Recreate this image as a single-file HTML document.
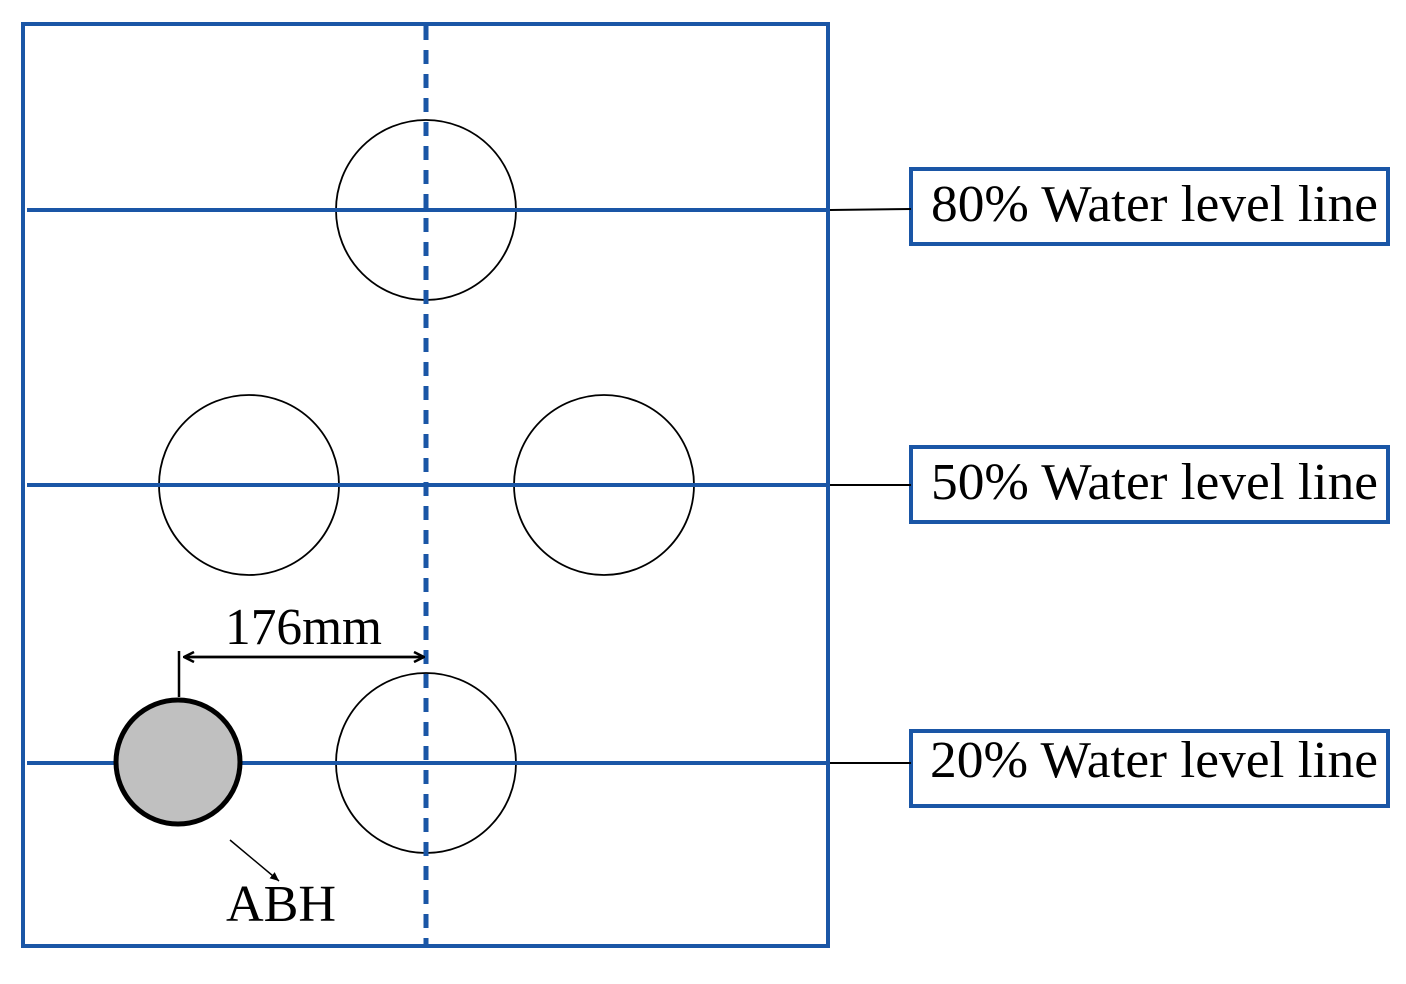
<!DOCTYPE html>
<html><head><style>html,body{margin:0;padding:0;background:#fff}</style></head>
<body>
<svg width="1406" height="979" xmlns="http://www.w3.org/2000/svg" style="font-family:'Liberation Serif','Times New Roman',serif">
<defs>
<marker id="ah" markerWidth="12" markerHeight="12" refX="11" refY="6" orient="auto" markerUnits="userSpaceOnUse">
<path d="M1,1 L11,6 L1,11" fill="none" stroke="#000" stroke-width="2.5"/>
</marker>
<marker id="ah2" markerWidth="10" markerHeight="10" refX="9" refY="5" orient="auto" markerUnits="userSpaceOnUse">
<path d="M0,1 L9,5 L0,9 z" fill="#000"/>
</marker>
</defs>
<g fill="none" stroke="#000" stroke-width="1.8">
<circle cx="426" cy="210" r="90"/>
<circle cx="249" cy="485" r="90"/>
<circle cx="604" cy="485" r="90"/>
<circle cx="426" cy="763" r="90"/>
</g>
<g stroke="#1a56a6" stroke-width="4">
<line x1="27" y1="210" x2="828" y2="210"/>
<line x1="27" y1="485" x2="828" y2="485"/>
<line x1="27" y1="763" x2="828" y2="763"/>
<line x1="426" y1="26" x2="426" y2="946" stroke-dasharray="14 10" stroke-width="5"/>
<rect x="23" y="24" width="805" height="922" fill="none"/>
<rect x="911" y="169" width="477" height="75" fill="none"/>
<rect x="911" y="447" width="477" height="75" fill="none"/>
<rect x="911" y="731" width="477" height="75" fill="none"/>
</g>
<g stroke="#000" stroke-width="2">
<line x1="830" y1="210" x2="911" y2="209"/>
<line x1="830" y1="485" x2="911" y2="485"/>
<line x1="830" y1="763" x2="911" y2="763"/>
</g>
<circle cx="178" cy="762" r="62" fill="#c0c0c0" stroke="#000" stroke-width="5"/>
<line x1="179" y1="651" x2="179" y2="697" stroke="#000" stroke-width="2.5"/>
<line x1="184" y1="657" x2="424" y2="657" stroke="#000" stroke-width="2.5" marker-end="url(#ah)"/>
<line x1="424" y1="657" x2="184" y2="657" stroke="#000" stroke-width="2.5" marker-end="url(#ah)"/>
<line x1="230" y1="840" x2="279" y2="881" stroke="#000" stroke-width="1.5" marker-end="url(#ah2)"/>
<g font-size="52" fill="#000">
<text x="225" y="644" textLength="157" lengthAdjust="spacingAndGlyphs">176mm</text>
<text x="226" y="921" textLength="110" lengthAdjust="spacingAndGlyphs">ABH</text>
<text x="931" y="221" textLength="447" lengthAdjust="spacingAndGlyphs">80% Water level line</text>
<text x="931" y="499" textLength="447" lengthAdjust="spacingAndGlyphs">50% Water level line</text>
<text x="930" y="777" textLength="448" lengthAdjust="spacingAndGlyphs">20% Water level line</text>
</g>
</svg>
</body></html>
